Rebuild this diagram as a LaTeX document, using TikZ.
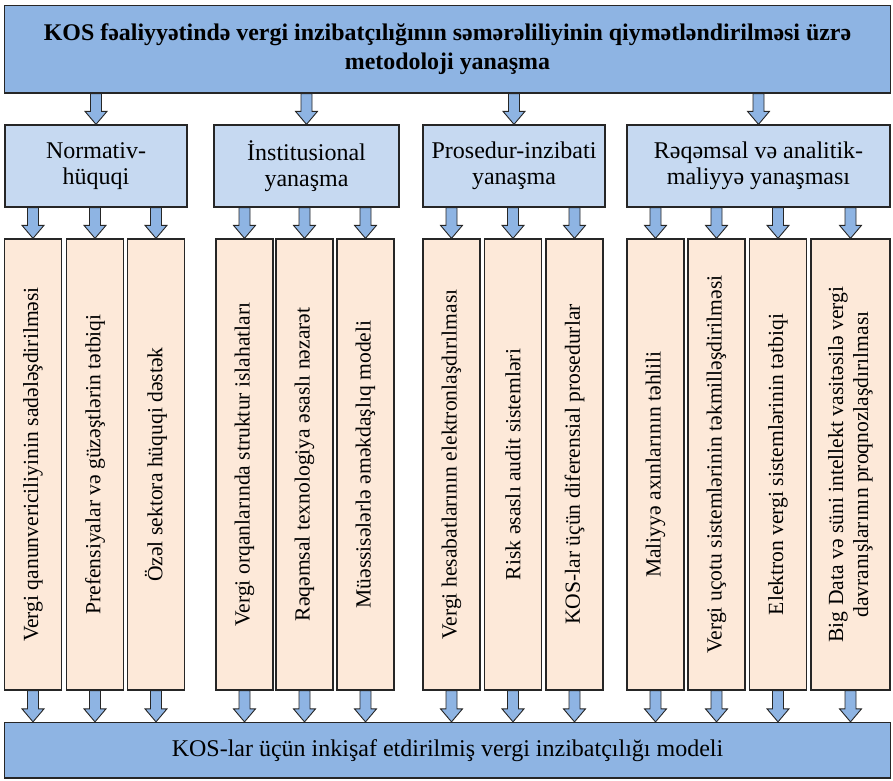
\documentclass[tikz,border=0pt]{standalone}
\usepackage{fontspec}
\setmainfont{Liberation Serif}
\usepackage{xcolor}
\usepackage{tikz}
\usetikzlibrary{positioning}
\usetikzlibrary{calc}
\definecolor{topblue}{HTML}{8EB4E3}
\definecolor{catblue}{HTML}{C6D9F1}
\definecolor{peach}{HTML}{FDE9D9}
\definecolor{edgegray}{HTML}{262626}
\tikzstyle{mainbox}=[rectangle,draw=edgegray,fill=topblue,line width=1.3pt,align=center,inner sep=0pt]
\tikzstyle{catbox}=[rectangle,draw=edgegray,fill=catblue,line width=1.3pt,align=center,inner sep=0pt,minimum height=82pt,font=\fontsize{24}{26.5}\selectfont]
\tikzstyle{leafbox}=[rectangle,draw=edgegray,fill=peach,line width=1.3pt,align=center,inner sep=0pt,rotate=90,minimum width=451pt,font=\fontsize{21.6}{25}\selectfont]
\tikzstyle{blockarrow}=[draw=edgegray,fill=topblue,line width=0.9pt,line join=miter,
  to path={let \p1=(\tikztostart), \p2=(\tikztotarget) in
    (\x1-5.5pt,\y1) -- (\x1+5.5pt,\y1) -- (\x1+5.5pt,\y2+13pt) -- (\x1+11pt,\y2+13pt)
    -- (\x1,\y2) -- (\x1-11pt,\y2+13pt) -- (\x1-5.5pt,\y2+13pt) -- cycle}]

\begin{document}
\begin{tikzpicture}[x=1pt,y=1pt]

  \useasboundingbox (0,0) rectangle (893,-780);

  % top and bottom
  \node[mainbox, minimum width=886pt, minimum height=87.5pt, font=\bfseries\fontsize{23.9}{28.5}\selectfont] (goal) at (447.5,-49.25)
    {KOS fəaliyyətində vergi inzibatçılığının səmərəliliyinin qiymətləndirilməsi üzrə\\metodoloji yanaşma};
  \node[mainbox, minimum width=886pt, minimum height=55.5pt, font=\fontsize{24}{26.5}\selectfont] (model) at (447.5,-750.25)
    {KOS-lar üçün inkişaf etdirilmiş vergi inzibatçılığı modeli};

  % approaches
  \foreach \x/\w/\name/\label in {96/182/norm/{Normativ-\\hüquqi}, 306.5/185/inst/{İnstitusional\\yanaşma},
      514/182/proc/{Prosedur-inzibati\\yanaşma}, 758.5/263/digi/{Rəqəmsal və analitik-\\maliyyə yanaşması}}
    \node[catbox, minimum width=\w pt] (\name) at (\x,-166) {\label};

  % directions
  \foreach \x/\w/\name/\label in {33/57/n1/{Vergi qanunvericiliyinin sadələşdirilməsi},
      95/57/n2/{Prefensiyalar və güzəştlərin tətbiqi}, 156/57/n3/{Özəl sektora hüquqi dəstək},
      244.5/57/i1/{Vergi orqanlarında struktur islahatları}, 304.5/57/i2/{Rəqəmsal texnologiya əsaslı nəzarət},
      365.5/57/i3/{Müəssisələrlə əməkdaşlıq modeli},
      451.5/57/p1/{Vergi hesabatlarının elektronlaşdırılması}, 513/57/p2/{Risk əsaslı audit sistemləri},
      574.5/57/p3/{KOS-lar üçün diferensial prosedurlar},
      655.5/57/d1/{Maliyyə axınlarının təhlili}, 716.5/57/d2/{Vergi uçotu sistemlərinin təkmilləşdirilməsi},
      778/57/d3/{Elektron vergi sistemlərinin tətbiqi},
      850.5/79/d4/{Big Data və süni intellekt vasitəsilə vergi\\davranışlarının proqnozlaşdırılması}}
    \node[leafbox, minimum height=\w pt] (\name) at (\x,-464.5) {\label};

  \foreach \cat in {norm,inst,proc,digi}
    \draw[blockarrow] (goal.south -| \cat) to (\cat.north);

  \foreach \cat/\leaf in {norm/n1, norm/n2, norm/n3, inst/i1, inst/i2, inst/i3,
      proc/p1, proc/p2, proc/p3, digi/d1, digi/d2, digi/d3, digi/d4}
    \draw[blockarrow] (\cat.south -| \leaf) to (\leaf.east);

  \foreach \leaf in {n1,n2,n3,i1,i2,i3,p1,p2,p3,d1,d2,d3,d4}
    \draw[blockarrow] (\leaf.west) to (\leaf.west |- model.north);

\end{tikzpicture}
\end{document}
